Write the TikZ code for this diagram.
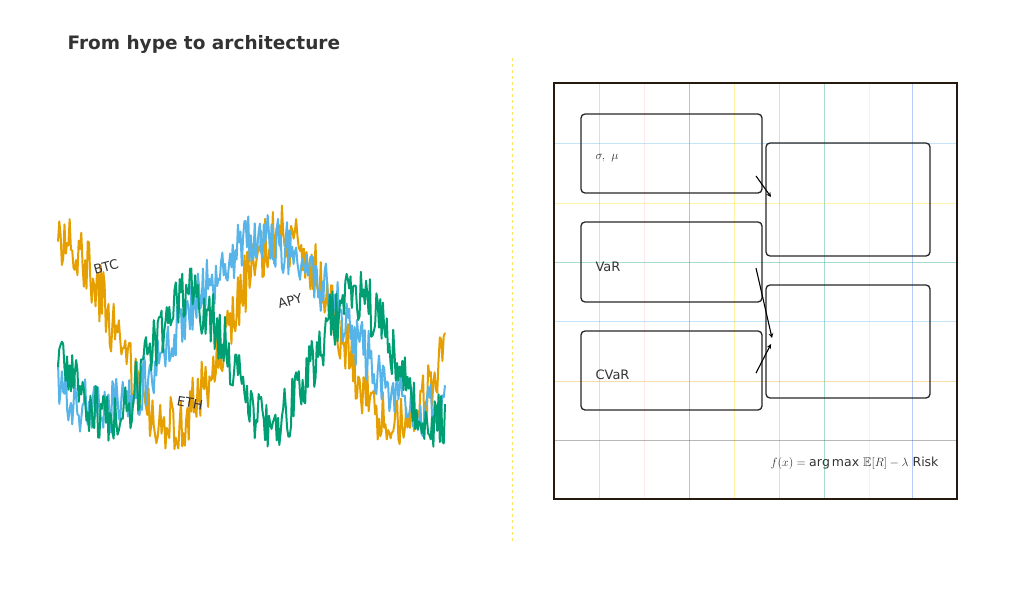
\documentclass[tikz,border=0pt]{standalone}
\usepackage{amssymb}
\usepackage{fontspec}
\setmainfont{DejaVu Sans}
\definecolor{cor}{HTML}{E69F00}
\definecolor{cbl}{HTML}{56B4E9}
\definecolor{cgr}{HTML}{009E73}
\definecolor{txt}{HTML}{333333}
\tikzset{
  series/.style={line width=2pt, line join=round},
  lbl/.style={text=txt, font=\fontsize{13}{15}\selectfont},
  card/.style={draw=black!85, rounded corners=4pt, line width=1.3pt},
  gl/.style={line width=0.8pt, opacity=0.35},
  arr/.style={-stealth, line width=1.1pt}
}
\begin{document}
\begin{tikzpicture}[x=1pt,y=-1pt]
\useasboundingbox (0,0) rectangle (1024,600);
\node[anchor=west, text=txt, font=\bfseries\fontsize{18.5}{22}\selectfont] (title) at (64,44) {From hype to architecture};
\draw[dashed, line width=0.9pt, color=yellow!70!orange, opacity=0.6] (512,58) -- (512,542);
% series
\pgfmathsetseed{7}
\draw[series, cor] plot[domain=58:445, samples=300] (\x, {330-95*cos(1.6*(\x-58))+30*rand});
\draw[series, cbl] plot[domain=58:445, samples=300] (\x, {325-85*cos(1.0909*(\x-265))+28*rand});
\draw[series, cgr] plot[domain=58:445, samples=300] (\x, {360-62*cos(2.1818*(\x-190))+30*rand});
\node[lbl, rotate=15] (btc) at (106,267) {BTC};
\node[lbl, rotate=15] (apy) at (290,301) {APY};
\node[lbl, rotate=-10] (eth) at (190,403) {ETH};
% panel grid
\foreach \xx/\cc in {599/cor,644/pink,689/black!70,734/yellow!80!orange,779/cbl,824/cgr,869/yellow,912/cbl!60!blue}
  \draw[gl, \cc] (\xx,83) -- (\xx,499);
\foreach \yy/\cc in {143/cbl,203/yellow!80!orange,262/cgr,321/cbl,381/cor,440/black!80}
  \draw[gl, \cc] (554,\yy) -- (957,\yy);
\draw[line width=1.6pt, color=black!80!brown] (554,83) rectangle (957,499);
% cards
\draw[card] (581,114) rectangle (762,193);
\draw[card] (581,222) rectangle (762,302);
\draw[card] (581,331) rectangle (762,410);
\draw[card] (766,143) rectangle (930,256);
\draw[card] (766,285) rectangle (930,398);
\node[lbl, anchor=west] (sm) at (592,158) {$\sigma,\ \mu$};
\node[lbl, anchor=west] (var) at (592,267) {VaR};
\node[lbl, anchor=west] (cvar) at (592,375) {CVaR};
\coordinate (a1) at (756,176); \coordinate (b1) at (771,197);
\coordinate (a2) at (756,268); \coordinate (b2) at (772,338);
\coordinate (a3) at (756,373); \coordinate (b3) at (771,344);
\draw[arr] (a1) -- (b1);
\draw[arr] (a2) -- (b2);
\draw[arr] (a3) -- (b3);
\node[lbl, anchor=east, font=\fontsize{12.5}{15}\selectfont] (f) at (942,463) {$f(x) = \arg\max\,\mathbb{E}[R] - \lambda$ Risk};
\end{tikzpicture}
\end{document}
